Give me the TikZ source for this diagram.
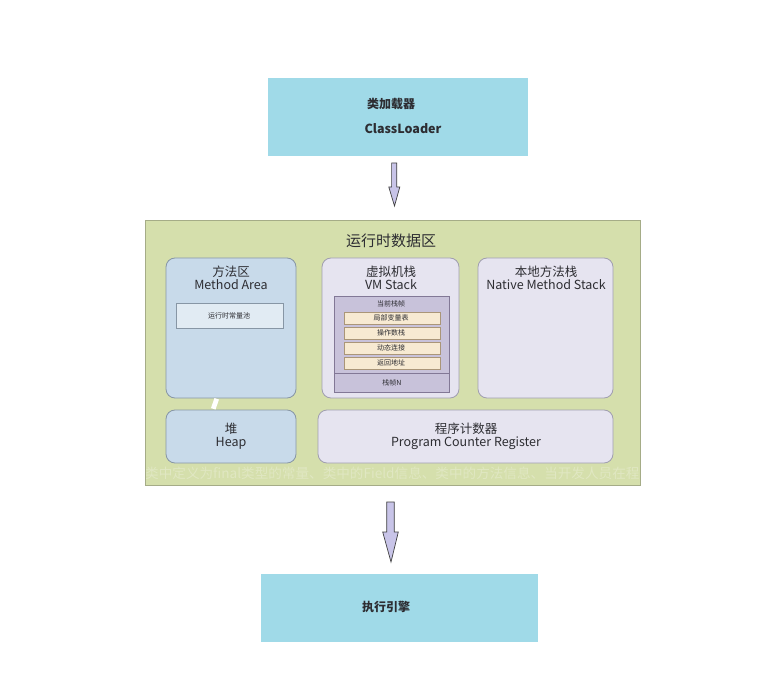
\documentclass[tikz,border=0pt]{standalone}
\usepackage{fontspec}
\setmainfont{Noto Sans CJK SC}
\usetikzlibrary{calc}
\definecolor{cyanbox}{RGB}{160,218,232}
\definecolor{greenbg}{RGB}{213,223,172}
\definecolor{greenbd}{RGB}{165,172,135}
\definecolor{bluebox}{RGB}{200,218,234}
\definecolor{bluebd}{RGB}{135,150,165}
\definecolor{lavbox}{RGB}{230,228,240}
\definecolor{lavbd}{RGB}{160,158,175}
\definecolor{framecol}{RGB}{200,194,218}
\definecolor{framebd}{RGB}{130,120,150}
\definecolor{peach}{RGB}{247,234,210}
\definecolor{peachbd}{RGB}{170,150,120}
\definecolor{arrowfill}{RGB}{200,196,232}
\definecolor{txt}{RGB}{45,45,50}
\definecolor{wm}{RGB}{224,231,194}
\tikzset{
  topbox/.style={draw=none, fill=cyanbox},
  areabox/.style={rounded corners=9pt, line width=0.8pt},
  bluearea/.style={areabox, draw=bluebd, fill=bluebox},
  lavarea/.style={areabox, draw=lavbd, fill=lavbox},
  lbl/.style={text=txt, font=\fontsize{12.5}{14}\selectfont, align=center, inner sep=0pt},
  tiny/.style={text=txt, font=\fontsize{7}{8}\selectfont, inner sep=0pt},
  peachbox/.style={draw=peachbd, fill=peach, line width=0.4pt},
  fatarrow/.style={draw=black!75, fill=arrowfill, line width=0.7pt, line join=miter}
}
\begin{document}
\begin{tikzpicture}[x=1pt,y=-1pt]
\useasboundingbox (0,0) rectangle (773,684);
\fill[white] (0,0) rectangle (773,684);

% top box
\draw[topbox] (268,78) rectangle (528,156);
\node[lbl, font=\bfseries\fontsize{12}{14}\selectfont] (cl1) at (391,104) {类加载器};
\node[lbl, font=\bfseries\fontsize{12.5}{14}\selectfont] (cl2) at (403,129) {ClassLoader};
\coordinate (a1s) at (394.2,163);
\coordinate (a1t) at (394.5,206);

% data area
\draw[draw=greenbd, fill=greenbg, line width=0.8pt] (145,220) rectangle (640,485);
\node[lbl, font=\fontsize{15}{17}\selectfont] (rt) at (391,241) {运行时数据区};

% watermark text
\begin{scope}
\clip (146,221) rectangle (648,484);
\node[text=wm, font=\fontsize{13.6}{15}\selectfont, anchor=west, inner sep=0pt] (wmk) at (145,473) {类中定义为final类型的常量、类中的Field信息、类中的方法信息、当开发人员在程};
\end{scope}

% method area
\draw[bluearea] (166,258) rectangle (296,398);
\node[lbl] (ma) at (231,278) {方法区\\[-1pt]Method Area};
\draw[draw=bluebd, fill=bluebox!55!white, line width=0.6pt] (176,303) rectangle (283,328);
\node[tiny] (rcp) at (229,316) {运行时常量池};

% VM stack
\draw[lavarea] (322,258) rectangle (459,398);
\node[lbl] (vm) at (391,278) {虚拟机栈\\[-1pt]VM Stack};
\draw[draw=framebd, fill=framecol, line width=0.6pt] (334,296) rectangle (449,392);
\draw[draw=framebd, line width=0.5pt] (334,373) -- (449,373);
\node[tiny] (cur) at (391,303.5) {当前栈帧};
\draw[peachbox] (344,312) rectangle (440,324);
\node[tiny] (lv) at (391,318) {局部变量表};
\draw[peachbox] (344,327) rectangle (440,339);
\node[tiny] (os) at (391,333) {操作数栈};
\draw[peachbox] (344,342) rectangle (440,354);
\node[tiny] (dl) at (391,348) {动态连接};
\draw[peachbox] (344,357) rectangle (440,369);
\node[tiny] (ra) at (391,363) {返回地址};
\node[tiny] (fn) at (392,382.5) {栈帧N};

% native method stack
\draw[lavarea] (478,258) rectangle (613,398);
\node[lbl] (nm) at (546,278) {本地方法栈\\[-1pt]Native Method Stack};

% heap
\draw[bluearea] (166,410) rectangle (296,463);
\node[lbl] (hp) at (231,436) {堆\\[-1pt]Heap};

% PC register
\draw[lavarea] (318,410) rectangle (613,463);
\node[lbl] (pc) at (466,436) {程序计数器\\[-1pt]Program Counter Register};

% small white mark
\fill[white] (211,408) -- (214.5,398) -- (219,399.5) -- (215.5,409.5) -- cycle;

% bottom box
\draw[topbox] (261,574) rectangle (538,642);
\node[lbl, font=\bfseries\fontsize{12}{14}\selectfont] (ee) at (386,607) {执行引擎};
\coordinate (a2s) at (390.5,502);
\coordinate (a2t) at (391,562);

% arrow 1
\draw[fatarrow] ($(a1s)+(-2.6,0)$) -- ($(a1s)+(2.6,0)$) -- ($(a1s)+(2.6,24)$) -- ($(a1s)+(5.6,24)$)
  -- (a1t) -- ($(a1s)+(-5.4,24)$) -- ($(a1s)+(-2.6,24)$) -- cycle;
% arrow 2
\draw[fatarrow] ($(a2s)+(-3.8,0)$) -- ($(a2s)+(3.8,0)$) -- ($(a2s)+(3.8,30)$) -- ($(a2s)+(7.8,30)$)
  -- (a2t) -- ($(a2s)+(-7.8,30)$) -- ($(a2s)+(-3.8,30)$) -- cycle;
\end{tikzpicture}
\end{document}
